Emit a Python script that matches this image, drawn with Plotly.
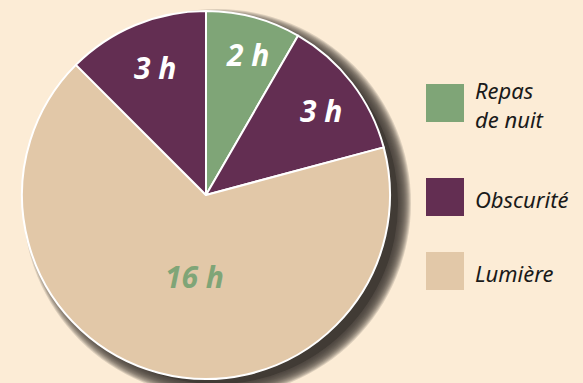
import math
import plotly.graph_objects as go

# Hours of a 24 h day, clockwise from midnight at the top
slices = ["Repas de nuit", "Obscurité (matin)", "Lumière", "Obscurité (soir)"]
hours = [2, 3, 16, 3]
slice_colors = ["#7fa577", "#632e52", "#e2c8a8", "#632e52"]
label_colors = ["white", "white", "#7fa577", "white"]

# Legend entries
legend_names = ["Repas<br>de nuit", "Obscurité", "Lumière"]
legend_colors = ["#7fa577", "#632e52", "#e2c8a8"]

W, H = 583, 383
CX, CY, R = 206, 195, 184          # pie centre / radius in pixels
BG = "#fcecd6"
FONT = "Noto Sans"

fig = go.Figure()

fig.add_trace(go.Pie(
    labels=slices,
    values=hours,
    sort=False,
    direction="clockwise",
    rotation=0,
    marker=dict(colors=slice_colors, line=dict(color="white", width=2)),
    textinfo="none",
    hoverinfo="label+value",
    showlegend=False,
    domain=dict(x=[(CX - R) / W, (CX + R) / W],
                y=[(H - CY - R) / H, (H - CY + R) / H]),
))

shapes = []

# soft drop shadow behind the pie (stacked translucent discs fake the blur)
SX, SY = CX + 11, CY + 8
shapes.append(dict(
    type="circle", xref="paper", yref="paper", layer="below",
    x0=(SX - R + 3) / W, x1=(SX + R - 3) / W,
    y0=1 - (SY + R - 3) / H, y1=1 - (SY - R + 3) / H,
    fillcolor="#433e38", line=dict(width=0),
))
for grow in range(10, -3, -1):
    r = R + grow
    shapes.append(dict(
        type="circle", xref="paper", yref="paper", layer="below",
        x0=(SX - r) / W, x1=(SX + r) / W,
        y0=1 - (SY + r) / H, y1=1 - (SY - r) / H,
        fillcolor="#433e38", opacity=0.17, line=dict(width=0),
    ))

annotations = []

# value labels placed at the middle angle of each slice (with a small nudge)
total = sum(hours)
radial = [0.80, 0.77, 0.45, 0.76]
nudge_x = [3, 3, 10, 3]
start = 0.0
for h, col, f, nx in zip(hours, label_colors, radial, nudge_x):
    mid = (start + h / 2) / total * 2 * math.pi
    start += h
    px = CX + f * R * math.sin(mid) + nx
    py = CY - f * R * math.cos(mid) + 2
    annotations.append(dict(
        x=px / W, y=1 - py / H, xref="paper", yref="paper",
        text=f"<b><i>{h} h</i></b>", showarrow=False,
        font=dict(family=FONT, size=30, color=col),
        xanchor="center", yanchor="middle",
    ))

# legend: coloured squares with italic captions
legend_y = [103, 197, 271]
for name, col, yc in zip(legend_names, legend_colors, legend_y):
    shapes.append(dict(
        type="rect", xref="paper", yref="paper", layer="above",
        x0=426 / W, x1=464 / W,
        y0=1 - (yc + 19) / H, y1=1 - (yc - 19) / H,
        fillcolor=col, line=dict(width=0),
    ))
    annotations.append(dict(
        x=473 / W, y=1 - (yc + 2) / H, xref="paper", yref="paper",
        text=f"<i>{name}</i>", showarrow=False, align="left",
        font=dict(family=FONT, size=22, color="#1a1a1a"),
        xanchor="left", yanchor="middle",
    ))

fig.update_layout(
    width=W, height=H,
    margin=dict(l=0, r=0, t=0, b=0),
    paper_bgcolor=BG, plot_bgcolor=BG,
    shapes=shapes, annotations=annotations,
    showlegend=False,
)

fig.write_html("out.html")
